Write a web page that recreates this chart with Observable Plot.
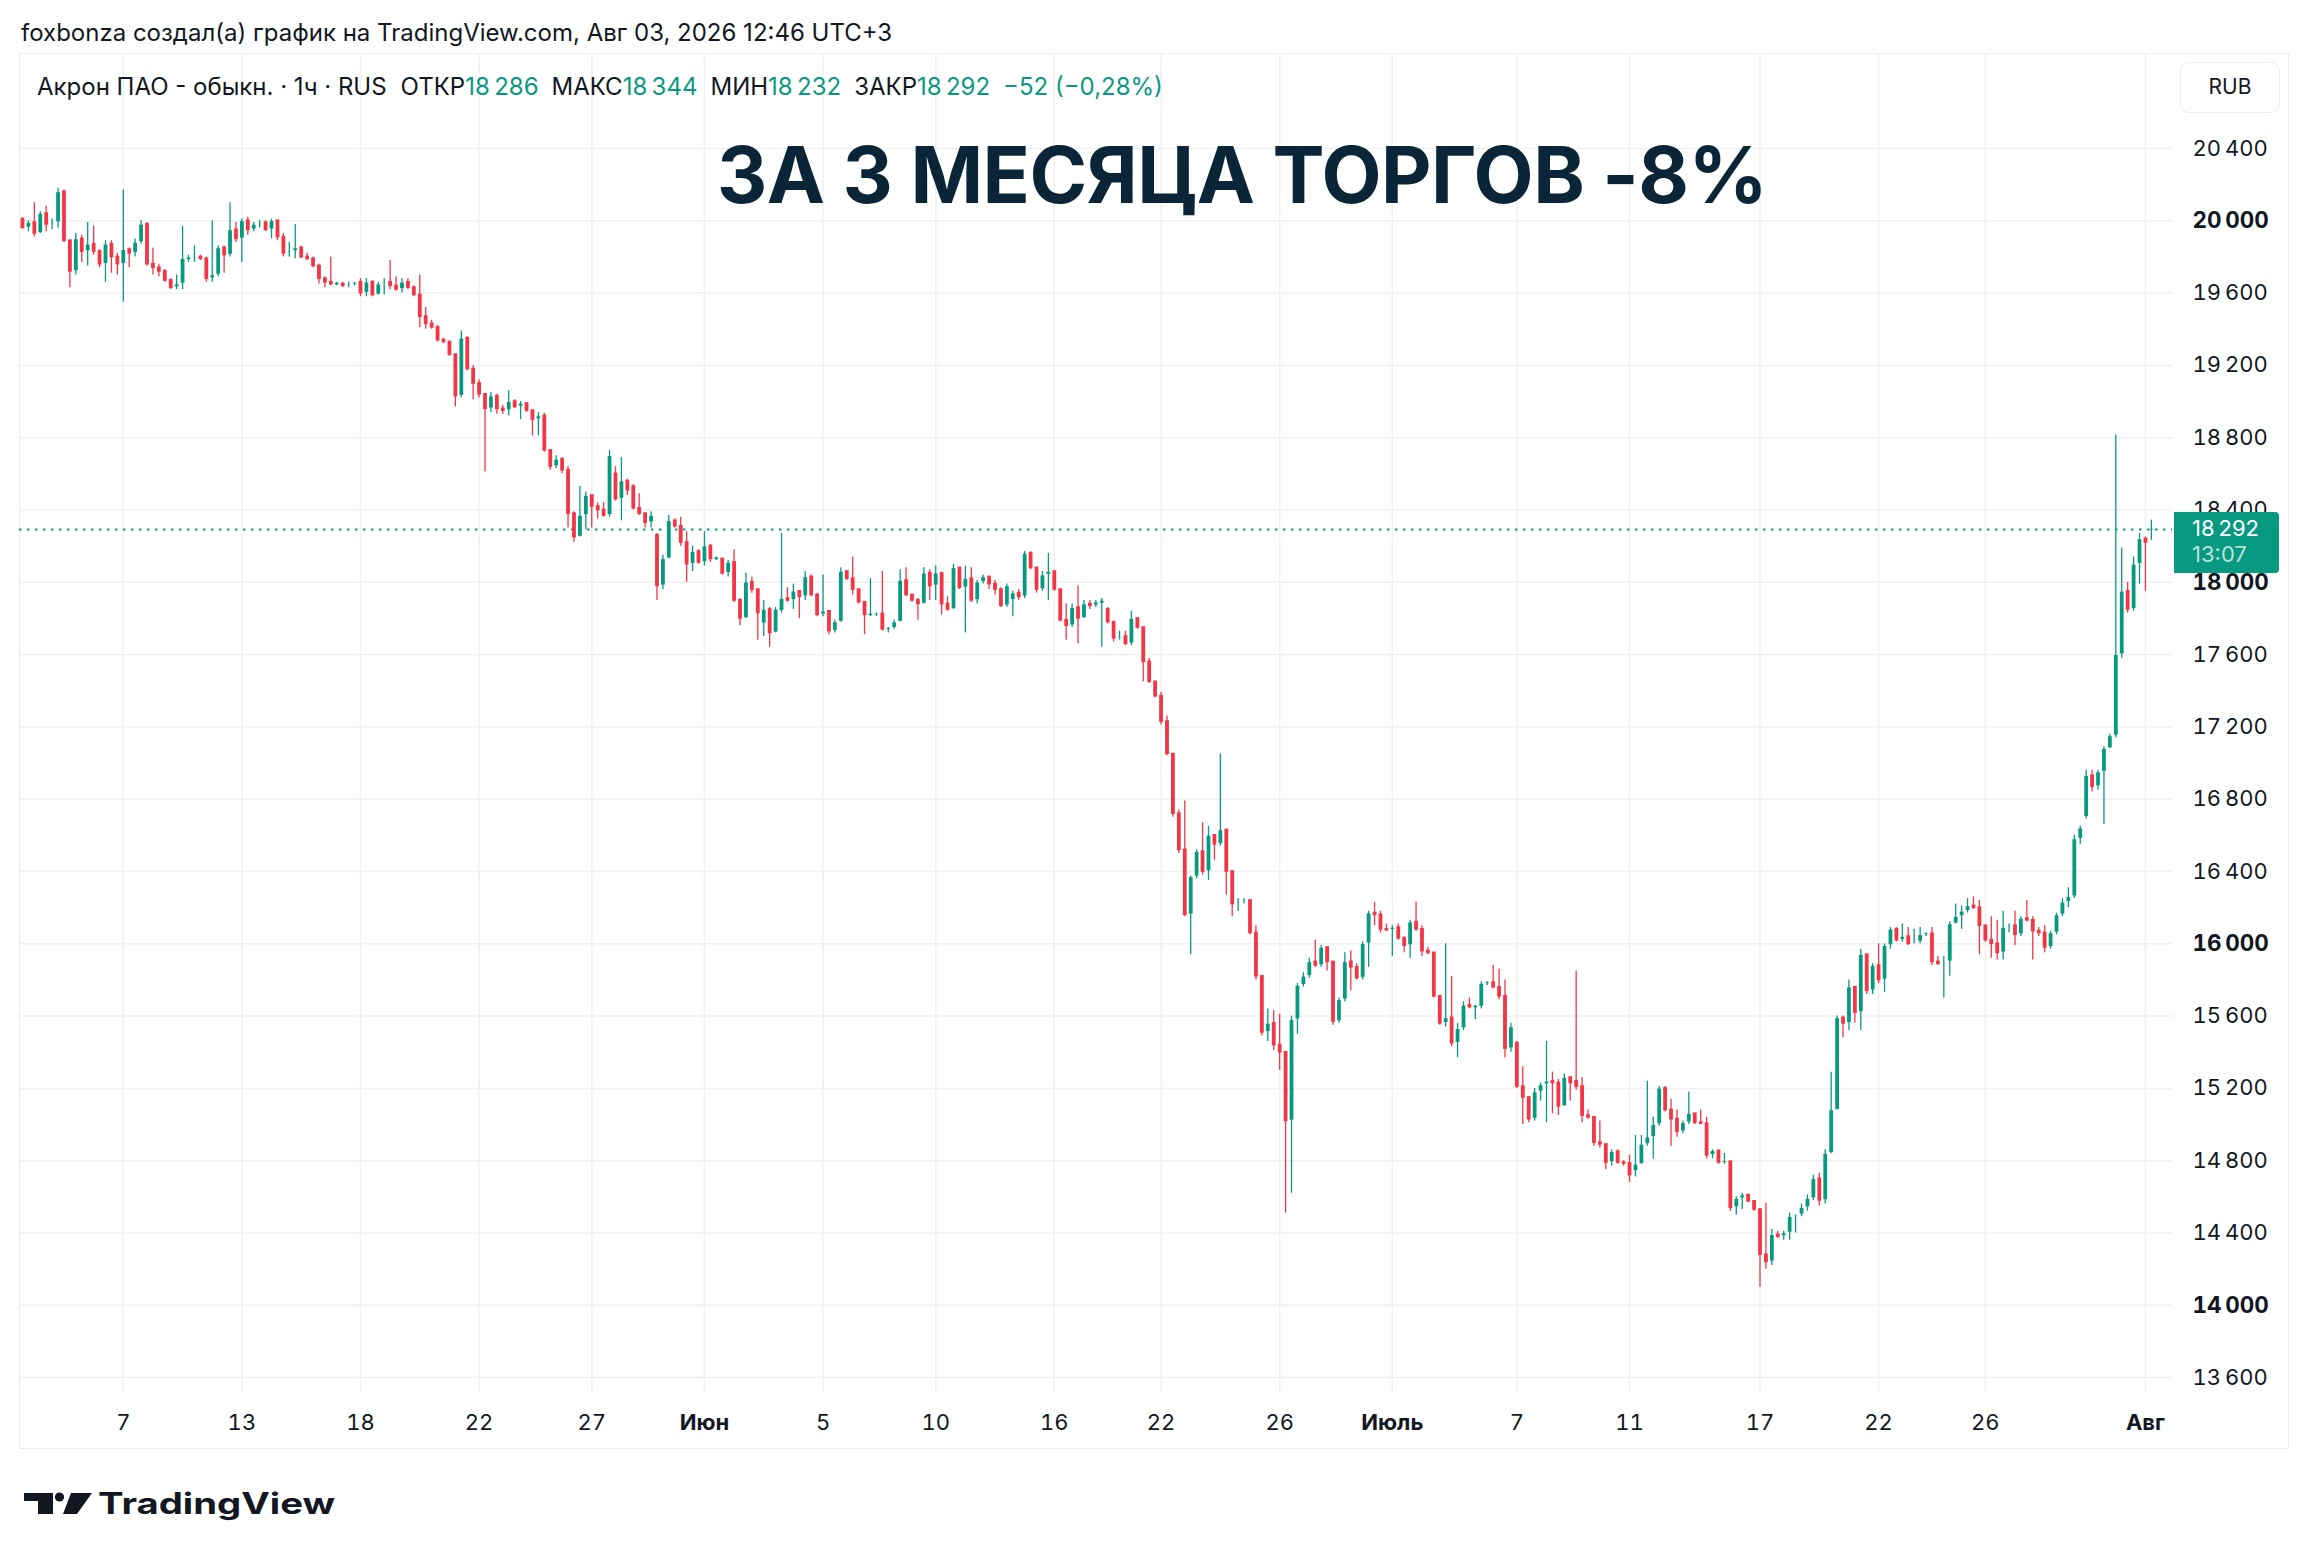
<!DOCTYPE html>
<html><head><meta charset="utf-8">
<script src="https://cdn.jsdelivr.net/npm/d3@7"></script>
<script src="https://cdn.jsdelivr.net/npm/@observablehq/plot@0.6"></script>
<style>
html,body{margin:0;padding:0;background:#fff;}
body{font-family:Inter,"Noto Sans",sans-serif;color:#131722;}
#page{position:relative;width:2308px;height:1568px;overflow:hidden;background:#fff;}
.abs{position:absolute;white-space:nowrap;}
#attrib{left:21px;top:18px;font-size:24px;line-height:30px;}
#frame{left:19px;top:53px;width:2270px;height:1396px;box-sizing:border-box;border:1.5px solid #ececec;}
#legend{left:37px;top:72px;font-size:24px;line-height:30px;}
#legend .v{color:#089981;}
#headline{left:717px;top:132px;font-size:78px;line-height:86px;font-weight:700;color:#0a2538;letter-spacing:-0.5px;}
#rub{left:2180px;top:62px;width:100px;height:51px;box-sizing:border-box;border:1.5px solid #ececec;border-radius:9px;font-size:21px;line-height:48px;text-align:center;}
#pricebox{left:2174px;width:105px;height:61px;background:#089981;border-radius:0 4px 4px 0;color:#fff;font-size:22px;}
#pricebox div{position:absolute;left:18px;line-height:27px;}
#chart{position:absolute;left:0;top:53px;}
#logo{left:0;top:1480px;}
</style></head>
<body><div id="page">
<div id="frame" class="abs"></div>
<div id="chart"></div>
<div id="attrib" class="abs">foxbonza создал(а) график на TradingView.com, Авг 03, 2026 12:46 UTC+3</div>
<div id="legend" class="abs"></div>
<div id="headline" class="abs">ЗА 3 МЕСЯЦА ТОРГОВ -8%</div>
<div id="rub" class="abs">RUB</div>
<div id="pricebox" class="abs"><div id="pb1" style="top:3px"></div><div id="pb2" style="top:29px;color:rgba(255,255,255,0.72)"></div></div>
<svg id="logo" class="abs" width="360" height="60" viewBox="0 0 360 60">
  <rect x="24" y="13" width="29" height="8" fill="#131722"/>
  <rect x="38" y="13" width="15" height="21" fill="#131722"/>
  <circle cx="59.5" cy="17" r="4.6" fill="#131722"/>
  <polygon points="71,13 92,13 77,34 63,34" fill="#131722"/>
  <text x="98" y="34" font-size="29.5" font-weight="700" fill="#131722" textLength="237" lengthAdjust="spacingAndGlyphs" font-family="Inter, sans-serif">TradingView</text>
</svg>
</div>
<script>
// ---- Hourly OHLC (AKRN, 1h) ----
const opens = [20010,19960,19990,19930,20040,19980,19990,20160,19890,19720,19900,19830,19870,19830,19760,19870,19800,19760,19840,19820,19880,19980,19760,19740,19720,19670,19630,19650,19790,19790,19800,19790,19680,19700,19850,19810,19950,19900,20000,19950,19980,19990,19950,20000,19910,19820,19830,19850,19800,19790,19750,19680,19660,19650,19650,19640,19650,19660,19600,19660,19590,19650,19660,19640,19620,19660,19630,19590,19470,19430,19410,19340,19330,19260,19030,19350,19180,19100,19040,18960,19030,18960,18950,19000,18970,18990,18950,18900,18920,18730,18640,18680,18620,18380,18250,18370,18480,18420,18400,18370,18600,18460,18560,18530,18410,18380,18330,18260,17980,18130,18340,18310,18220,18100,18170,18110,18200,18130,18130,18050,18110,17900,17800,18000,17960,17770,17850,17720,17840,17910,17900,17950,17920,18030,17930,17820,17840,17730,17780,18060,18020,17960,17890,17820,17820,17825,17740,17745,17780,18010,17930,17900,17880,18050,17980,18050,17880,17850,18080,17970,18020,17900,18000,18030,17990,17960,17870,17900,17940,17920,18160,18080,17960,18040,18060,17960,17790,17760,17860,17800,17880,17870,17880,17850,17780,17690,17700,17660,17800,17750,17560,17450,17370,17230,17050,16720,16520,16160,16370,16510,16400,16600,16550,16630,16400,16220,16230,16240,16060,15820,15510,15560,15440,15400,15020,15580,15770,15820,15900,15880,15980,15900,15570,15690,15900,15870,15810,16000,16170,16160,16080,16075,16090,16030,15990,16120,16080,15960,15950,15710,15560,15590,15450,15530,15660,15650,15650,15780,15785,15760,15710,15420,15450,15210,15150,15030,15180,15220,15240,15230,15100,15260,15240,15210,15050,15040,14900,14890,14790,14850,14790,14785,14740,14780,14890,14930,15000,15200,15080,15030,14960,15010,15060,15010,15005,14830,14855,14790,14795,14540,14590,14610,14575,14530,14280,14240,14390,14380,14400,14490,14500,14540,14590,14700,14580,14840,15080,15590,15560,15760,15620,15940,15740,15880,15800,15990,16080,16020,16040,16000,16010,16050,16055,15900,15890,15900,16110,16150,16180,16210,16200,16100,16020,16000,15950,16090,16100,16050,16140,16130,16070,16060,15980,16060,16160,16230,16260,16580,16700,16930,16870,16950,17080,17150,17600,17950,17850,18100,18240,18286];
const highs = [20015,20000,20100,20050,20080,20010,20180,20170,19890,19930,19920,19990,19970,19840,19890,19890,19820,20170,19850,19900,20000,19990,19850,19760,19730,19680,19700,19970,19810,19860,19810,19800,20000,19860,19860,20100,19990,20010,20020,19990,20000,20000,20010,20000,19930,19880,19980,19860,19820,19800,19760,19690,19800,19660,19660,19660,19660,19680,19680,19670,19660,19680,19780,19690,19680,19680,19640,19700,19520,19450,19420,19350,19330,19260,19390,19360,19200,19120,19040,19050,19040,18980,19060,19010,19000,18990,18950,18940,18935,18730,18700,18690,18640,18390,18530,18500,18480,18440,18440,18730,18640,18690,18570,18540,18490,18380,18390,18270,18150,18370,18350,18360,18280,18200,18180,18280,18210,18140,18130,18120,18180,17910,18050,18030,17960,17900,17860,17860,18270,17970,17990,17950,18060,18040,17940,18040,17840,17790,18080,18060,18140,17960,17890,18020,17830,18060,17750,17790,18070,18080,17930,17910,18080,18070,18090,18050,17920,18100,18080,18090,18080,18010,18040,18030,18010,17970,17990,17950,17960,18170,18170,18080,18060,18160,18060,17960,17880,17880,17980,17900,17900,17900,17910,17860,17780,17730,17730,17840,17800,17750,17580,17450,17390,17260,17050,16740,16790,16375,16520,16670,16650,16600,17050,16630,16400,16250,16250,16240,16100,15820,15640,15630,15610,15400,15600,15780,15840,15920,16020,15990,15980,15900,15700,15950,15960,15890,16010,16180,16230,16180,16110,16100,16110,16040,16130,16230,16100,15980,15950,15710,16000,15820,15560,15680,15700,15660,15790,15790,15880,15860,15800,15560,15460,15320,15150,15200,15230,15460,15290,15250,15280,15260,15850,15260,15080,15040,15020,14890,14860,14860,14800,14830,14940,14940,15240,15040,15210,15210,15140,15080,15020,15180,15060,15080,15040,14860,14855,14840,14795,14600,14620,14610,14580,14530,14565,14420,14410,14410,14510,14500,14560,14610,14720,14730,14860,15290,15600,15600,15800,15760,15970,15940,15890,16000,16000,16090,16090,16110,16090,16080,16090,16060,16090,15930,15930,16120,16220,16210,16250,16260,16240,16100,16150,16130,16180,16110,16180,16150,16240,16150,16090,16100,16070,16170,16250,16310,16600,16650,16960,16960,16960,17090,17160,18815,18190,18000,18140,18270,18250,18344];
const lows = [19960,19940,19910,19930,19940,19950,19960,19880,19630,19700,19770,19750,19810,19740,19660,19710,19700,19550,19740,19800,19870,19750,19700,19690,19660,19620,19620,19620,19770,19770,19780,19660,19660,19690,19710,19800,19880,19770,19920,19940,19960,19940,19900,19890,19800,19800,19790,19790,19780,19740,19650,19630,19640,19640,19630,19630,19640,19580,19580,19580,19590,19590,19620,19610,19600,19620,19580,19410,19400,19400,19330,19320,19250,18970,19020,19170,19010,19020,18610,18940,18930,18930,18920,18960,18900,18940,18810,18810,18720,18620,18630,18600,18300,18220,18250,18290,18300,18350,18360,18360,18450,18340,18480,18400,18370,18300,18300,17900,17960,18130,18300,18200,18000,18060,18100,18090,18110,18120,18040,18030,17890,17760,17800,17940,17680,17700,17640,17720,17830,17890,17850,17800,17900,17920,17810,17810,17710,17720,17780,18010,17930,17880,17710,17810,17810,17730,17720,17740,17780,17920,17890,17790,17880,17900,17900,17820,17840,17850,17960,17720,17890,17880,17990,17960,17930,17860,17860,17810,17900,17910,18070,17940,17950,17900,17950,17780,17680,17750,17660,17800,17850,17860,17640,17770,17670,17680,17650,17650,17740,17450,17440,17360,17210,17040,16700,16500,16150,15940,16360,16380,16350,16460,16540,16270,16150,16180,16220,16050,15800,15490,15460,15410,15300,14510,14620,15500,15760,15810,15870,15870,15850,15550,15560,15680,15740,15800,15800,15870,16100,16060,16070,15930,16020,15950,15920,16070,15930,15940,15700,15550,15540,15430,15370,15520,15640,15580,15640,15770,15750,15690,15370,15400,15200,15000,15010,15020,15130,15010,15060,15050,15100,15130,15190,15010,15030,14880,14870,14750,14770,14780,14770,14680,14710,14780,14880,14810,14990,15070,14880,14930,14950,15000,15000,15000,14810,14810,14780,14780,14520,14500,14530,14570,14520,14100,14200,14220,14370,14360,14360,14400,14490,14520,14580,14550,14560,14840,15080,15480,15520,15560,15520,15720,15720,15780,15730,15970,16010,16010,15990,16000,16000,16040,15880,15880,15700,15820,16110,16080,16170,16190,15940,16010,15920,15910,15910,16060,15990,16040,16120,15910,16040,15950,15970,16050,16150,16200,16250,16550,16690,16840,16850,16660,17080,17140,17580,17830,17840,17990,17950,18232];
const closes = [19960,19990,19930,20040,19980,19990,20160,19890,19720,19900,19830,19870,19830,19760,19870,19800,19760,19840,19820,19880,19980,19760,19740,19720,19670,19630,19650,19790,19790,19800,19790,19680,19700,19850,19810,19950,19900,20000,19950,19980,19990,19950,20000,19910,19820,19830,19850,19800,19790,19750,19680,19660,19650,19650,19640,19650,19655,19600,19660,19590,19650,19660,19640,19620,19660,19630,19590,19470,19430,19410,19340,19330,19260,19030,19350,19180,19100,19040,18960,19030,18960,18950,19000,18970,18990,18950,18900,18920,18730,18640,18680,18620,18380,18250,18370,18480,18420,18400,18370,18700,18460,18560,18510,18410,18380,18330,18370,17980,18130,18340,18310,18220,18100,18170,18110,18200,18130,18130,18050,18110,17900,17800,18000,17960,17830,17850,17720,17850,17910,17900,17950,17920,18030,17930,17820,17840,17730,17780,18060,18020,17960,17890,17820,17820,17825,17740,17745,17780,18010,17930,17900,17880,18050,17980,18050,17880,17850,18080,17970,18020,17900,18000,18030,17990,17960,17870,17980,17940,17920,18160,18080,17960,18040,18060,17960,17790,17760,17860,17800,17880,17870,17890,17900,17780,17690,17700,17660,17800,17750,17560,17450,17370,17230,17050,16720,16520,16160,16370,16510,16400,16600,16550,16630,16400,16220,16230,16240,16060,15820,15510,15560,15440,15400,15020,15580,15770,15820,15900,15880,15980,15900,15570,15690,15900,15870,15810,16000,16170,16160,16080,16075,16090,16030,15990,16120,16080,15960,15950,15710,15560,15590,15450,15530,15660,15650,15650,15780,15785,15760,15710,15420,15540,15210,15150,15030,15180,15220,15240,15230,15100,15260,15230,15210,15050,15040,14900,14890,14790,14850,14790,14785,14720,14780,14890,14930,15000,15200,15080,15030,14960,15010,15060,15010,15005,14830,14855,14790,14795,14540,14590,14610,14575,14530,14280,14240,14390,14380,14400,14490,14500,14540,14590,14700,14580,14840,15080,15590,15560,15760,15620,15940,15740,15880,15800,15990,16080,16020,16040,16000,16010,16050,16055,15900,15890,15900,16110,16150,16180,16210,16200,16100,16020,16000,15950,16090,16100,16050,16140,16130,16070,16060,15980,16060,16160,16230,16260,16580,16640,16930,16870,16950,17080,17150,17600,17950,17850,18100,18240,18220,18292];

// time axis: bar index where each labelled session starts
const dayTickIdx = [17,37,57,77,96,135,154,174,192,212,252,271,293,313,331];
const dayTickLabels = ["7","13","18","22","27","5","10","16","22","26","7","11","17","22","26"];
const monthTickIdx = [115,231,358];
const monthTickLabels = ["Июн","Июль","Авг"];

// price axis
const priceTicks = [13600,14400,14800,15200,15600,16400,16800,17200,17600,18400,18800,19200,19600,20400];
const priceTicksBold = [14000,16000,18000,20000];

// legend values
const legendName = "Акрон ПАО - обыкн. · 1ч · RUS";
const legendFields = [["ОТКР",18286],["МАКС",18344],["МИН",18232],["ЗАКР",18292]];
const changeAbs = -52, changePct = -0.28;
const lastTime = "13:07";

const UP = "#089981", DOWN = "#f23645", INK = "#131722", GRID = "#f0f0f0";
const fmt = n => d3.format(",")(n).replace(/,/g, "\u2009");

const bars = closes.map((c, i) => ({i, o: opens[i], h: Math.max(highs[i], opens[i], c), l: Math.min(lows[i], opens[i], c), c}));
const upBars = bars.filter(d => d.c >= d.o), downBars = bars.filter(d => d.c < d.o);
const lastClose = closes[closes.length - 1];

const plot = Plot.plot({
  width: 2308, height: 1395,
  marginLeft: 19, marginRight: 136, marginTop: 0, marginBottom: 56,
  x: {type: "linear", domain: [-0.5, 362.56]},
  y: {type: "linear", domain: [13517.6, 20925.6]},
  style: {fontFamily: "Inter, 'Noto Sans', sans-serif", fontSize: "22px", color: INK, background: "transparent", overflow: "visible"},
  marks: [
    Plot.gridY([...priceTicks, ...priceTicksBold], {stroke: GRID, strokeOpacity: 1, strokeWidth: 1.5}),
    Plot.gridX([...dayTickIdx, ...monthTickIdx], {stroke: GRID, strokeOpacity: 1, strokeWidth: 1.5}),
    Plot.ruleY([lastClose], {stroke: UP, strokeWidth: 1.8, strokeDasharray: "2.5 5.5"}),
    Plot.ruleX(upBars, {x: "i", y1: "l", y2: "h", stroke: UP, strokeWidth: 1.3}),
    Plot.ruleX(downBars, {x: "i", y1: "l", y2: "h", stroke: DOWN, strokeWidth: 1.3}),
    Plot.ruleX(upBars, {x: "i", y1: "o", y2: "c", stroke: UP, strokeWidth: 3.8, insetTop: -0.8, insetBottom: -0.8}),
    Plot.ruleX(downBars, {x: "i", y1: "o", y2: "c", stroke: DOWN, strokeWidth: 3.8, insetTop: -0.8, insetBottom: -0.8}),
    Plot.axisY(priceTicks, {anchor: "right", tickSize: 0, tickPadding: 20, textAnchor: "start", fontSize: 22, fill: INK, label: null, tickFormat: fmt}),
    Plot.axisY(priceTicksBold, {anchor: "right", tickSize: 0, tickPadding: 20, textAnchor: "start", fontSize: 22.5, fontWeight: "bold", fill: INK, label: null, tickFormat: fmt}),
    Plot.axisX(dayTickIdx, {anchor: "bottom", tickSize: 0, tickPadding: 22, fontSize: 22, fill: INK, label: null, tickFormat: d => dayTickLabels[dayTickIdx.indexOf(d)]}),
    Plot.axisX(monthTickIdx, {anchor: "bottom", tickSize: 0, tickPadding: 22, fontSize: 22, fontWeight: "bold", fill: INK, label: null, tickFormat: d => monthTickLabels[monthTickIdx.indexOf(d)]})
  ]
});
document.getElementById("chart").appendChild(plot);

// legend line
const lg = document.getElementById("legend");
let html = `<span>${legendName}</span>`;
legendFields.forEach(([k, v], j) => { html += `<span style="margin-left:${j === 0 ? 14 : 13}px">${k}<span class="v">${fmt(v)}</span></span>`; });
html += `<span class="v" style="margin-left:13px">${changeAbs < 0 ? "\u2212" + Math.abs(changeAbs) : "+" + changeAbs} (${changePct < 0 ? "\u2212" : "+"}${Math.abs(changePct).toFixed(2).replace(".", ",")}%)</span>`;
lg.innerHTML = html;

// last price label on the price scale
const yLast = 53 + plot.scale("y").apply(lastClose);
const pb = document.getElementById("pricebox");
pb.style.top = (yLast - 17) + "px";
document.getElementById("pb1").textContent = fmt(lastClose);
document.getElementById("pb2").textContent = lastTime;
</script>
</body></html>
